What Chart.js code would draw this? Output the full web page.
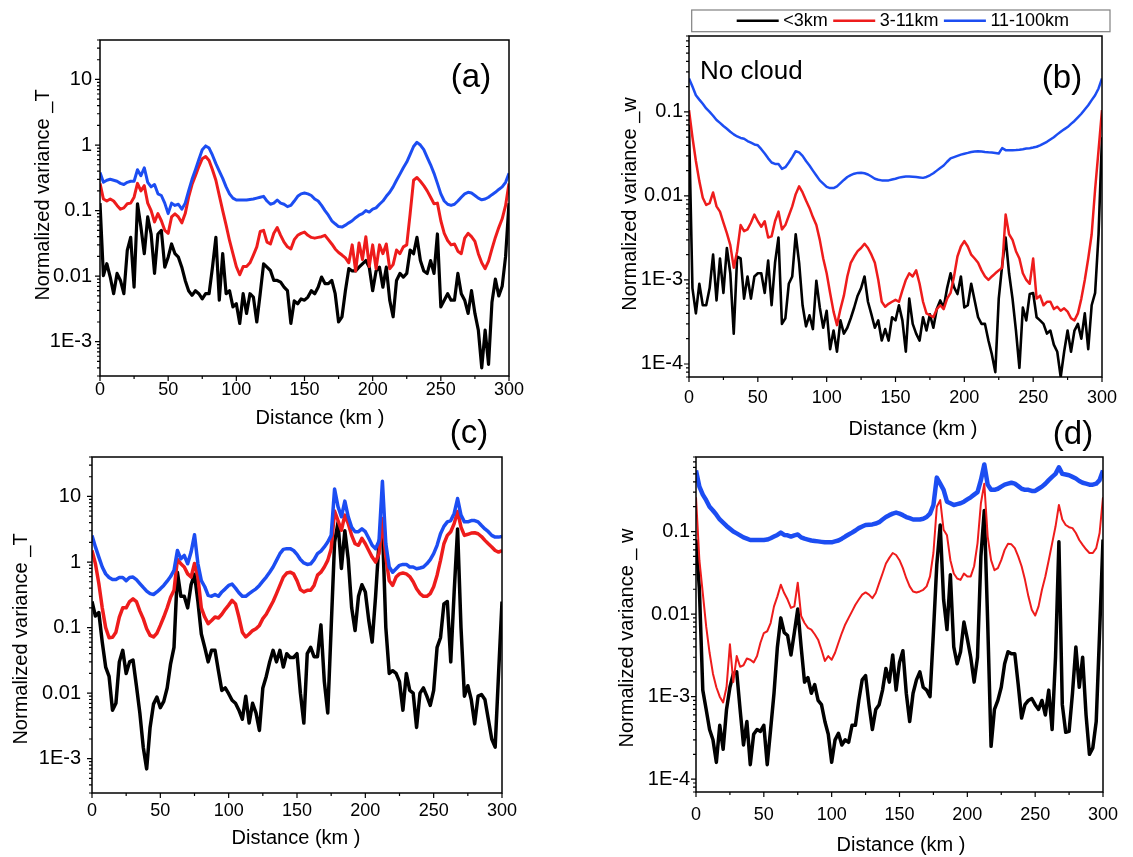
<!DOCTYPE html>
<html>
<head>
<meta charset="utf-8">
<title>Normalized variance along the flight track</title>
<script src="https://cdn.jsdelivr.net/npm/chart.js@4.4.1/dist/chart.umd.min.js"></script>
<style>
  body { margin: 0; background: #fff; }
  #wrap { position: relative; width: 1133px; height: 857px; overflow: hidden; }
  canvas { position: absolute; }
</style>
</head>
<body>
<div id="wrap">
  <canvas id="panelA"></canvas>
  <canvas id="panelB"></canvas>
  <canvas id="panelC"></canvas>
  <canvas id="panelD"></canvas>
</div>
<script>
// sampling grid along the track (km)
const dist = [];
for (let d = 0; d <= 300; d += 2.5) dist.push(d);

const xTicks = [0, 50, 100, 150, 200, 250, 300];
const tickT = [1e-3, 0.01, 0.1, 1, 10];
const tickTText = ['1E-3', '0.01', '0.1', '1', '10'];
const tickW = [1e-4, 1e-3, 0.01, 0.1];
const tickWText = ['1E-4', '1E-3', '0.01', '0.1'];

const seriesNames = ['<3km', '3-11km', '11-100km'];
const seriesColors = ['#000000', '#ee1c1c', '#1c4df2'];

// (a) temperature, no cloud
const blackA = [
  0.13, 0.0102, 0.0155, 0.0097, 0.0054, 0.011, 0.0086, 0.0054, 0.0246, 0.039,
  0.0068, 0.127, 0.056, 0.022, 0.08, 0.044, 0.011, 0.044, 0.05, 0.0137,
  0.0195, 0.031, 0.022, 0.0195, 0.0137, 0.0086, 0.006, 0.0051, 0.006, 0.0054,
  0.0045, 0.0054, 0.0054, 0.0137, 0.039, 0.0043, 0.022, 0.0054, 0.006, 0.0034,
  0.0038, 0.0019, 0.0054, 0.0027, 0.0054, 0.0048, 0.002, 0.0054, 0.0154, 0.0137,
  0.0122, 0.0086, 0.0086, 0.0081, 0.0068, 0.006, 0.0019, 0.0042, 0.0038, 0.0045,
  0.0043, 0.0048, 0.006, 0.0054, 0.0068, 0.0097, 0.0077, 0.0077, 0.0086, 0.0054,
  0.002, 0.0024, 0.006, 0.013, 0.012, 0.012, 0.0137, 0.0154, 0.0173, 0.0137,
  0.006, 0.012, 0.0137, 0.0068, 0.0137, 0.0043, 0.0024, 0.0086, 0.011, 0.0097,
  0.011, 0.025, 0.022, 0.039, 0.0173, 0.012, 0.011, 0.0173, 0.011, 0.044,
  0.0034, 0.0043, 0.0054, 0.0043, 0.0043, 0.011, 0.0054, 0.0043, 0.0027, 0.006,
  0.0027, 0.0015, 0.0004, 0.0015, 0.00045, 0.004, 0.009, 0.005, 0.007, 0.02,
  0.13
];
const redA = [
  0.26, 0.15, 0.14, 0.15, 0.14, 0.12, 0.105, 0.11, 0.127, 0.13,
  0.16, 0.26, 0.2, 0.24, 0.13, 0.1, 0.067, 0.09, 0.07, 0.05,
  0.045, 0.08, 0.089, 0.08, 0.065, 0.09, 0.16, 0.25, 0.34, 0.47,
  0.62, 0.67, 0.58, 0.42, 0.29, 0.17, 0.1, 0.06, 0.035, 0.022,
  0.014, 0.0105, 0.014, 0.014, 0.016, 0.021, 0.028, 0.048, 0.05, 0.033,
  0.031, 0.045, 0.055, 0.042, 0.033, 0.028, 0.026, 0.036, 0.042, 0.045,
  0.047, 0.042, 0.039, 0.038, 0.039, 0.04, 0.042, 0.036, 0.031, 0.026,
  0.023, 0.021, 0.019, 0.016, 0.03, 0.012, 0.032, 0.018, 0.04, 0.014,
  0.03, 0.013, 0.03, 0.022, 0.031, 0.013, 0.015, 0.025, 0.022, 0.028,
  0.03, 0.09, 0.29, 0.32, 0.28, 0.24, 0.2, 0.16, 0.127, 0.13,
  0.07, 0.045, 0.035, 0.03, 0.031, 0.024, 0.022, 0.038, 0.045, 0.04,
  0.034, 0.022, 0.016, 0.013, 0.017, 0.026, 0.039, 0.055, 0.075, 0.12,
  0.26
];
const blueA = [
  0.38, 0.27, 0.29, 0.3, 0.29, 0.28, 0.26, 0.25, 0.27, 0.28,
  0.28, 0.42, 0.34, 0.45, 0.27, 0.23, 0.25, 0.18, 0.17, 0.13,
  0.09, 0.13, 0.12, 0.125, 0.105, 0.13, 0.2, 0.3, 0.42, 0.6,
  0.85, 0.97, 0.9, 0.7, 0.52, 0.4, 0.31, 0.23, 0.18, 0.155,
  0.145, 0.145, 0.145, 0.145, 0.148, 0.15, 0.155, 0.16, 0.165, 0.14,
  0.125, 0.13, 0.145, 0.13, 0.125, 0.115, 0.12, 0.14, 0.165, 0.18,
  0.185, 0.18, 0.17, 0.15, 0.14, 0.12, 0.1, 0.085, 0.07, 0.063,
  0.057, 0.056, 0.06, 0.065, 0.07, 0.078, 0.085, 0.09, 0.1, 0.095,
  0.105, 0.11, 0.125, 0.14, 0.165, 0.19, 0.23, 0.29, 0.36, 0.45,
  0.55, 0.72, 0.95, 1.1, 1.0, 0.85, 0.65, 0.5, 0.37, 0.26,
  0.18, 0.14, 0.125, 0.12, 0.125, 0.14, 0.16, 0.18, 0.19, 0.185,
  0.17, 0.155, 0.146, 0.15, 0.16, 0.175, 0.19, 0.21, 0.23, 0.27,
  0.37
];

// (b) vertical velocity, no cloud
const blackB = [
  0.07, 0.0008, 0.0004, 0.0009, 0.0005, 0.0005, 0.0008, 0.002, 0.00057, 0.0018,
  0.0007, 0.0024, 0.0012, 0.00023, 0.0019, 0.0018, 0.0006, 0.0011, 0.0006, 0.0011,
  0.0012, 0.0012, 0.0007, 0.0017, 0.0005, 0.0016, 0.0032, 0.0003, 0.00035, 0.0009,
  0.0011, 0.0035, 0.0016, 0.0005, 0.00028, 0.00038, 0.00026, 0.00098, 0.00047, 0.00027,
  0.00043, 0.00015, 0.00025, 0.00014, 0.00033, 0.00023, 0.00027, 0.00035, 0.00047, 0.00065,
  0.0008, 0.0011, 0.00055, 0.00039, 0.00027, 0.00033, 0.00019, 0.00026, 0.00019, 0.00036,
  0.00033, 0.0005, 0.00033, 0.00014, 0.0006, 0.0003, 0.00023, 0.00019, 0.00036, 0.00025,
  0.00039, 0.00027, 0.00045, 0.00057, 0.00047, 0.0008, 0.0012, 0.00082, 0.00068, 0.0011,
  0.00047, 0.0005, 0.0009, 0.00057, 0.00036, 0.0003, 0.0003, 0.00019, 0.00013, 0.00008,
  0.0006, 0.0015, 0.0032, 0.0012, 0.0006, 0.00025, 0.00009, 0.00047, 0.00033, 0.00068,
  0.0007, 0.00036, 0.00033, 0.0003, 0.00023, 0.00025, 0.00017, 0.00014, 0.00007, 0.00014,
  0.00025, 0.00014, 0.00025, 0.0003, 0.0002, 0.0004, 0.00015, 0.0005, 0.0007, 0.0035,
  0.05
];
const redB = [
  0.105, 0.05, 0.026, 0.015, 0.0095, 0.0078, 0.0082, 0.011, 0.0075, 0.0065,
  0.0048, 0.0036, 0.0026, 0.0014, 0.0022, 0.0045, 0.0038, 0.004, 0.0048, 0.006,
  0.005, 0.0043, 0.005, 0.0032, 0.0033, 0.005, 0.0065, 0.004, 0.0045, 0.0058,
  0.0075, 0.0105, 0.013, 0.011, 0.0088, 0.0072, 0.0056, 0.0045, 0.003, 0.0018,
  0.0012, 0.0007, 0.00042, 0.00029, 0.00045, 0.00065, 0.0011, 0.0016, 0.0019, 0.0022,
  0.0024, 0.0027, 0.0024, 0.002, 0.0016, 0.001, 0.00055, 0.00048, 0.00052, 0.00055,
  0.00058, 0.00055, 0.00075, 0.001, 0.0012, 0.0011, 0.0013, 0.0009, 0.00055, 0.0004,
  0.00038, 0.00036, 0.00045, 0.0005, 0.00045, 0.0006, 0.0007, 0.0011, 0.0019, 0.0025,
  0.0029, 0.0025, 0.002, 0.0018, 0.0016, 0.0013, 0.0011, 0.001, 0.0011, 0.0012,
  0.0013, 0.0014, 0.006, 0.0035, 0.003, 0.0022, 0.0018, 0.0012, 0.001, 0.0009,
  0.0018, 0.0006, 0.00065, 0.0005, 0.00055, 0.00055, 0.00045, 0.00048, 0.00043, 0.00046,
  0.00042, 0.00035, 0.00033, 0.0004, 0.0006, 0.001, 0.0018, 0.0035, 0.012, 0.035,
  0.105
];
const blueB = [
  0.25, 0.2, 0.158, 0.14, 0.125, 0.11, 0.1, 0.09, 0.08, 0.074,
  0.068, 0.063, 0.058, 0.054, 0.051, 0.049, 0.048, 0.045, 0.043, 0.041,
  0.04, 0.036, 0.032, 0.028, 0.025, 0.024, 0.024, 0.021, 0.022, 0.025,
  0.029, 0.034, 0.033, 0.03, 0.026, 0.023, 0.02, 0.0175, 0.0153, 0.014,
  0.0128, 0.0124, 0.0124, 0.013, 0.0142, 0.0155, 0.0168, 0.0177, 0.0184, 0.0188,
  0.0189, 0.0186, 0.018, 0.017, 0.016, 0.0156, 0.0153, 0.0153, 0.0153, 0.0157,
  0.016, 0.0165, 0.0168, 0.017, 0.017, 0.0169, 0.0168, 0.0166, 0.0164, 0.0168,
  0.0176, 0.0186, 0.02, 0.0215, 0.023, 0.0255, 0.028, 0.029, 0.03, 0.031,
  0.0318, 0.0325, 0.0333, 0.0337, 0.034, 0.0337, 0.0333, 0.033, 0.0328, 0.0325,
  0.032, 0.037, 0.035, 0.035, 0.035, 0.0352, 0.0355, 0.036, 0.0366, 0.037,
  0.0376, 0.0385, 0.04, 0.042, 0.044, 0.047, 0.05, 0.054, 0.058, 0.062,
  0.066, 0.072, 0.078, 0.086, 0.095, 0.107, 0.12, 0.138, 0.158, 0.19,
  0.25
];

// (c) temperature, cloudy
const blackC = [
  0.25, 0.15, 0.17, 0.06, 0.025, 0.018, 0.0055, 0.007, 0.03, 0.045,
  0.02, 0.03, 0.032, 0.013, 0.005, 0.0015, 0.0007, 0.003, 0.0068, 0.0087,
  0.006, 0.0075, 0.012, 0.028, 0.05, 0.7, 0.3, 0.3, 0.2, 0.45,
  0.65, 0.25, 0.08, 0.05, 0.03, 0.045, 0.045, 0.022, 0.011, 0.012,
  0.0098, 0.0078, 0.007, 0.0055, 0.004, 0.009, 0.0035, 0.007, 0.005, 0.0027,
  0.012, 0.018, 0.03, 0.045, 0.03, 0.045, 0.025, 0.04, 0.035, 0.035,
  0.04, 0.01, 0.0035, 0.04, 0.05, 0.036, 0.036, 0.11, 0.015, 0.005,
  0.1, 2.0, 4.0, 0.8, 3.0, 1.1, 0.2, 0.09, 0.3, 0.45,
  0.35, 0.13, 0.06, 0.3, 2.0, 3.5, 0.1, 0.02, 0.022, 0.02,
  0.015, 0.0055, 0.02, 0.011, 0.01, 0.003, 0.01, 0.012, 0.009, 0.0065,
  0.011, 0.05, 0.07, 0.23, 0.25, 0.03, 0.35, 3.2, 0.1, 0.009,
  0.013, 0.008, 0.0034, 0.009, 0.0095, 0.008, 0.004, 0.002, 0.0015, 0.02,
  0.25
];
const redC = [
  1.5, 0.94, 0.47, 0.2, 0.1, 0.07, 0.071, 0.085, 0.145, 0.2,
  0.2, 0.25, 0.275, 0.25, 0.18, 0.137, 0.096, 0.076, 0.072, 0.082,
  0.108, 0.145, 0.2, 0.29, 0.37, 1.1, 0.94, 0.84, 0.66, 0.59,
  0.95, 0.59, 0.2, 0.145, 0.115, 0.128, 0.145, 0.14, 0.16, 0.19,
  0.22, 0.26, 0.23, 0.145, 0.085, 0.072, 0.08, 0.09, 0.096, 0.108,
  0.137, 0.16, 0.2, 0.25, 0.33, 0.44, 0.59, 0.68, 0.7, 0.66,
  0.52, 0.38, 0.35, 0.37, 0.37, 0.44, 0.63, 0.7, 0.84, 1.06,
  1.6, 6, 4.3, 3.05, 5.2, 3.85, 2.55, 1.9, 1.8, 2.3,
  1.9, 1.5, 1.19, 1.0, 1.34, 4.6, 1.19, 0.52, 0.44, 0.59,
  0.66, 0.68, 0.66, 0.6, 0.5, 0.39, 0.33, 0.3, 0.3, 0.33,
  0.42, 0.63, 1.06, 1.9, 2.55, 2.9, 3.85, 5.9, 3.4, 2.55,
  2.65, 2.77, 2.8, 2.7, 2.45, 2.14, 1.9, 1.7, 1.5, 1.42,
  1.5
];
const blueC = [
  2.55, 1.7, 1.19, 0.84, 0.66, 0.58, 0.54, 0.54, 0.58, 0.58,
  0.52, 0.58, 0.59, 0.54, 0.47, 0.41, 0.36, 0.33, 0.32, 0.35,
  0.39, 0.44, 0.51, 0.6, 0.75, 1.5, 1.12, 1.26, 0.94, 1.42,
  2.6, 0.94, 0.52, 0.42, 0.31, 0.3, 0.32, 0.3, 0.35, 0.39,
  0.44, 0.46, 0.4, 0.34, 0.3, 0.3, 0.33, 0.36, 0.39, 0.44,
  0.51, 0.59, 0.7, 0.84, 1.06, 1.34, 1.56, 1.6, 1.6, 1.5,
  1.31, 1.09, 0.97, 0.92, 0.94, 1.09, 1.34, 1.47, 1.7, 2.02,
  2.55, 13, 7, 4.9, 8.5, 4.9, 3.4, 2.9, 2.9, 3.2,
  2.9, 2.3, 1.8, 1.6, 2.1, 17, 1.9, 0.84, 0.7, 0.79,
  0.89, 0.92, 0.92, 0.84, 0.84, 0.79, 0.81, 0.84, 0.94, 1.09,
  1.34, 1.8, 2.7, 3.5, 4.1, 4.3, 5.5, 9.3, 5.2, 4.1,
  4.1, 4.3, 4.3, 4.1, 3.6, 3.2, 2.9, 2.55, 2.4, 2.4,
  2.45
];

// (d) vertical velocity, cloudy
const blackD = [
  0.08, 0.02, 0.0012, 0.0007, 0.0004, 0.0003, 0.00016, 0.00045, 0.00023, 0.0007,
  0.0013, 0.0019, 0.002, 0.0007, 0.00026, 0.0005, 0.00015, 0.00035, 0.0004, 0.00038,
  0.00045, 0.00015, 0.0004, 0.0011, 0.004, 0.009, 0.006, 0.0055, 0.0032, 0.006,
  0.0115, 0.004, 0.0015, 0.0017, 0.0011, 0.0014, 0.0009, 0.0008, 0.0005, 0.00035,
  0.00016, 0.0003, 0.00036, 0.00026, 0.0003, 0.00028, 0.00045, 0.00045, 0.0009, 0.0016,
  0.0018, 0.0008, 0.0004, 0.0007, 0.0008, 0.0012, 0.0022, 0.0015, 0.0032, 0.0012,
  0.0026, 0.0036, 0.0011, 0.0005, 0.0011, 0.0016, 0.002, 0.0013, 0.0012, 0.001,
  0.006, 0.04, 0.12, 0.015, 0.0065, 0.03, 0.004, 0.0025, 0.0035, 0.008,
  0.005, 0.003, 0.0015, 0.003, 0.05, 0.18, 0.008, 0.00025, 0.0007, 0.0009,
  0.0013, 0.0025, 0.0035, 0.0033, 0.0033, 0.0014, 0.00055, 0.0008, 0.0009, 0.00095,
  0.0008, 0.0007, 0.0009, 0.0006, 0.0012, 0.0004, 0.003, 0.075, 0.0008, 0.00037,
  0.00038, 0.0011, 0.004, 0.0013, 0.003, 0.0006, 0.0002, 0.00024, 0.0005, 0.006,
  0.08
];
const redD = [
  0.26, 0.045, 0.018, 0.0071, 0.0034, 0.0019, 0.0013, 0.001, 0.00085, 0.0013,
  0.0043, 0.0015, 0.0031, 0.0023, 0.0024, 0.0029, 0.0028, 0.0026, 0.0031, 0.0045,
  0.0059, 0.0062, 0.0078, 0.0124, 0.0164, 0.0227, 0.018, 0.015, 0.0119, 0.0124,
  0.024, 0.0095, 0.0078, 0.0068, 0.0065, 0.0057, 0.0049, 0.0037, 0.0027, 0.0031,
  0.0028, 0.0034, 0.0045, 0.0059, 0.0075, 0.009, 0.0108, 0.013, 0.015, 0.0172,
  0.0183, 0.0172, 0.0156, 0.018, 0.0237, 0.031, 0.041, 0.048, 0.055, 0.052,
  0.045, 0.036, 0.0272, 0.0217, 0.0188, 0.0183, 0.0188, 0.0197, 0.0217, 0.0286,
  0.055, 0.2, 0.24, 0.105, 0.09, 0.045, 0.031, 0.027, 0.026, 0.031,
  0.0286, 0.0286, 0.038, 0.072, 0.22, 0.38, 0.087, 0.045, 0.034, 0.036,
  0.045, 0.06, 0.071, 0.07, 0.063, 0.05, 0.038, 0.026, 0.0164, 0.0113,
  0.0096, 0.0124, 0.0197, 0.0286, 0.045, 0.072, 0.115, 0.21, 0.14, 0.12,
  0.113, 0.11, 0.096, 0.079, 0.069, 0.061, 0.055, 0.055, 0.063, 0.096,
  0.26
];
const blueD = [
  0.55, 0.35, 0.28, 0.24, 0.2, 0.18, 0.16, 0.14, 0.128, 0.117,
  0.108, 0.1, 0.095, 0.09, 0.085, 0.082, 0.079, 0.079, 0.079, 0.079,
  0.079, 0.08, 0.083, 0.087, 0.091, 0.097, 0.091, 0.09, 0.087, 0.09,
  0.092, 0.085, 0.082, 0.08, 0.078, 0.077, 0.076, 0.075, 0.074, 0.074,
  0.074, 0.076, 0.078, 0.082, 0.087, 0.092, 0.097, 0.103, 0.11, 0.115,
  0.12, 0.121, 0.122, 0.125, 0.13, 0.14, 0.15, 0.158, 0.165, 0.17,
  0.165, 0.158, 0.15, 0.145, 0.14, 0.14, 0.14, 0.143, 0.15, 0.165,
  0.21, 0.45, 0.38, 0.32, 0.23, 0.22, 0.21, 0.215, 0.22, 0.23,
  0.245, 0.26, 0.28, 0.3, 0.42, 0.65, 0.37, 0.32, 0.32, 0.33,
  0.35, 0.37, 0.38, 0.39, 0.38, 0.355, 0.33, 0.32, 0.32, 0.31,
  0.31, 0.33, 0.35, 0.38, 0.42, 0.46, 0.5, 0.6, 0.5, 0.49,
  0.48, 0.46, 0.44, 0.41, 0.39, 0.38, 0.37, 0.37, 0.38, 0.42,
  0.55
];

const FONT = "'Liberation Sans', Arial, Helvetica, sans-serif";
const PAD = { l: 100, t: 45, r: 30, b: 75 };

function logLabel(values, texts) {
  return v => {
    const k = values.findIndex(t => Math.abs(Math.log10(v / t)) < 1e-6);
    return k < 0 ? '' : texts[k];
  };
}

function lineSet(i, values, width) {
  return {
    label: seriesNames[i],
    data: dist.map((d, k) => ({ x: d, y: values[k] })),
    borderColor: seriesColors[i],
    backgroundColor: seriesColors[i],
    borderWidth: width,
    pointRadius: 0,
    tension: 0,
    borderJoinStyle: 'round',
    order: 3 - i
  };
}

// frame, outward tick marks, free text and the legend box
const panelDecor = {
  id: 'panelDecor',
  afterDraw(chart, args, opts) {
    const { ctx, chartArea: a, scales: { x, y } } = chart;
    ctx.save();
    ctx.strokeStyle = '#000';
    ctx.lineWidth = 1.5;
    ctx.strokeRect(a.left, a.top, a.right - a.left, a.bottom - a.top);

    ctx.lineWidth = 1.2;
    ctx.beginPath();
    x.ticks.forEach(t => {
      const px = x.getPixelForValue(t.value);
      const len = t.value % 50 === 0 ? 5 : 3;
      ctx.moveTo(px, a.bottom);
      ctx.lineTo(px, a.bottom + len);
    });
    y.ticks.forEach(t => {
      const e = Math.floor(Math.log10(t.value) + 1e-9);
      const m = t.value / Math.pow(10, e);
      if (Math.abs(m - Math.round(m)) > 1e-6) return;
      const py = y.getPixelForValue(t.value);
      const len = Math.round(m) === 1 ? 5 : 3;
      ctx.moveTo(a.left, py);
      ctx.lineTo(a.left - len, py);
    });
    ctx.stroke();

    ctx.fillStyle = '#000';
    ctx.textBaseline = 'middle';
    (opts.texts || []).forEach(t => {
      ctx.save();
      ctx.font = t.size + 'px ' + FONT;
      ctx.textAlign = t.align || 'center';
      ctx.translate(a.left + t.x, a.top + t.y);
      if (t.rot) ctx.rotate(t.rot);
      ctx.fillText(t.text, 0, 0);
      ctx.restore();
    });

    const lg = opts.legend;
    if (lg) {
      ctx.strokeStyle = '#808080';
      ctx.lineWidth = 1.2;
      ctx.strokeRect(a.left + lg.x, a.top + lg.y, lg.w, lg.h);
      ctx.font = lg.size + 'px ' + FONT;
      ctx.textAlign = 'left';
      let cx = a.left + lg.start;
      const cy = a.top + lg.y + lg.h / 2;
      chart.data.datasets.forEach(ds => {
        ctx.strokeStyle = ds.borderColor;
        ctx.lineWidth = 2.5;
        ctx.beginPath();
        ctx.moveTo(cx, cy);
        ctx.lineTo(cx + 42, cy);
        ctx.stroke();
        cx += 46.5;
        ctx.fillText(ds.label, cx, cy);
        cx += ctx.measureText(ds.label).width + 5.5;
      });
    }
    ctx.restore();
  }
};

function makePanel(p) {
  const c = document.getElementById(p.id);
  const w = p.plot.r - p.plot.l;
  const h = p.plot.b - p.plot.t;
  c.width = w + PAD.l + PAD.r;
  c.height = h + PAD.t + PAD.b;
  c.style.left = (p.plot.l - PAD.l) + 'px';
  c.style.top = (p.plot.t - PAD.t) + 'px';

  new Chart(c.getContext('2d'), {
    type: 'line',
    data: {
      datasets: [
        lineSet(0, p.series[0], p.widths[0]),
        lineSet(1, p.series[1], p.widths[1]),
        lineSet(2, p.series[2], p.widths[2])
      ]
    },
    options: {
      responsive: false,
      animation: false,
      devicePixelRatio: 1,
      events: [],
      layout: { padding: { left: 0, top: PAD.t, right: PAD.r, bottom: 0 } },
      plugins: {
        legend: { display: false },
        tooltip: { enabled: false },
        panelDecor: { texts: p.texts, legend: p.legend }
      },
      scales: {
        x: {
          type: 'linear',
          min: 0,
          max: 300,
          grid: { display: false, drawTicks: false },
          border: { display: false },
          ticks: {
            stepSize: 25,
            autoSkip: false,
            maxRotation: 0,
            padding: p.xPad,
            color: '#000',
            font: { family: FONT, size: 18 },
            callback: v => (xTicks.includes(v) ? String(v) : '')
          },
          afterFit: s => { s.height = PAD.b; }
        },
        y: {
          type: 'logarithmic',
          min: p.yMin,
          max: p.yMax,
          grid: { display: false, drawTicks: false },
          border: { display: false },
          ticks: {
            autoSkip: false,
            padding: p.yPad,
            color: '#000',
            font: { family: FONT, size: 20 },
            callback: logLabel(p.ticks, p.tickText)
          },
          afterFit: s => { s.width = PAD.l; }
        }
      }
    },
    plugins: [panelDecor]
  });
}

const ROT = -Math.PI / 2;

makePanel({
  id: 'panelA',
  plot: { l: 100, t: 40, r: 509, b: 376 },
  series: [blackA, redA, blueA],
  widths: [3.2, 3, 3],
  yMin: 3e-4, yMax: 40, ticks: tickT, tickText: tickTText, yPad: 8, xPad: 3,
  texts: [
    { text: 'Distance (km )', x: 220, y: 378, size: 20 },
    { text: 'Normalized variance _T', x: -56.5, y: 155, size: 20, rot: ROT },
    { text: '(a)', x: 371, y: 38, size: 33 }
  ]
});

makePanel({
  id: 'panelB',
  plot: { l: 689, t: 36, r: 1102, b: 377 },
  series: [blackB, redB, blueB],
  widths: [2.6, 2.5, 2.5],
  yMin: 7e-5, yMax: 0.8, ticks: tickW, tickText: tickWText, yPad: 6, xPad: 10,
  texts: [
    { text: 'Distance (km )', x: 224, y: 393, size: 20 },
    { text: 'Normalized variance _w', x: -59, y: 168, size: 20, rot: ROT },
    { text: '(b)', x: 373, y: 43, size: 33 },
    { text: 'No cloud', x: 11, y: 36, size: 26, align: 'left' }
  ],
  legend: { x: 2.7, y: -26, w: 418.3, h: 21.7, start: 47.7, size: 18 }
});

makePanel({
  id: 'panelC',
  plot: { l: 92, t: 457, r: 502, b: 793 },
  series: [blackC, redC, blueC],
  widths: [3.5, 3.5, 3.5],
  yMin: 3e-4, yMax: 40, ticks: tickT, tickText: tickTText, yPad: 11, xPad: 7,
  texts: [
    { text: 'Distance (km )', x: 204, y: 381, size: 20 },
    { text: 'Normalized variance _T', x: -70.5, y: 182, size: 20, rot: ROT },
    { text: '(c)', x: 377, y: -23, size: 33 }
  ]
});

makePanel({
  id: 'panelD',
  plot: { l: 696, t: 457, r: 1103, b: 792 },
  series: [blackD, redD, blueD],
  widths: [3.5, 2, 4.5],
  yMin: 7e-5, yMax: 0.8, ticks: tickW, tickText: tickWText, yPad: 6, xPad: 12,
  texts: [
    { text: 'Distance (km )', x: 205, y: 388, size: 20 },
    { text: 'Normalized variance _ w', x: -69, y: 181, size: 20, rot: ROT },
    { text: '(d)', x: 377, y: -22, size: 33 }
  ]
});
</script>
</body>
</html>
